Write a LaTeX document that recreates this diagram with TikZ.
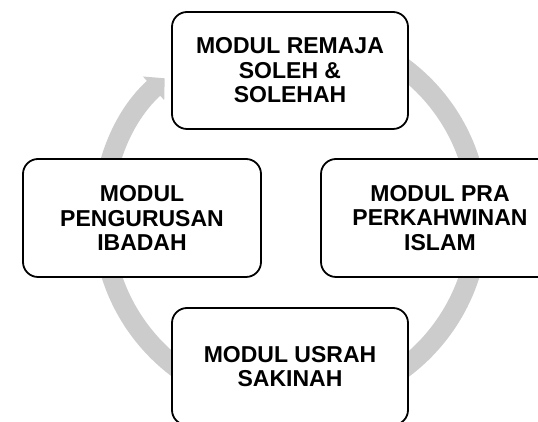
\documentclass[tikz,border=0pt]{standalone}
\usepackage{fontspec}
\setmainfont{Liberation Sans}
\usetikzlibrary{arrows.meta}
\begin{document}
\begin{tikzpicture}[x=1pt,y=1pt]
\tikzstyle{every node}+=[inner sep=0pt]
\tikzstyle{modul}=[draw=black, fill=white, line width=1.8pt, rounded corners=15pt, align=center,
  minimum width=236pt, minimum height=117pt, font=\bfseries\fontsize{23}{24.5}\selectfont]
\tikzstyle{ring}=[draw=gray!40, line width=20pt, -{Triangle[length=15pt,width=31pt]}]
\useasboundingbox (0,0) rectangle (538,422);
\coordinate (hub) at (290.5,204);
\draw [ring] ([shift={(100:188)}]hub) arc (100:-228:188);
\node [modul] (remaja) at (290,351.5) {MODUL REMAJA\\SOLEH \&\\SOLEHAH};
\node [modul, minimum width=238pt, minimum height=118pt] (ibadah) at (142,204) {MODUL\\PENGURUSAN\\IBADAH};
\node [modul, minimum width=238pt, minimum height=118pt] (nikah) at (440,204) {MODUL PRA\\PERKAHWINAN\\ISLAM};
\node [modul] (usrah) at (290,55.5) {MODUL USRAH\\SAKINAH};
\end{tikzpicture}
\end{document}
